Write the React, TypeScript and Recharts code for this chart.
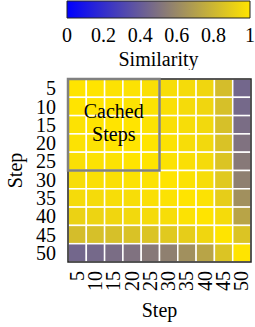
import React from 'react';
import {
  BarChart,
  Bar,
  ScatterChart,
  Scatter,
  XAxis,
  YAxis,
  ReferenceArea,
  Label,
} from 'recharts';

const FONT = "'Liberation Serif', 'Times New Roman', serif";

// steps on both axes
const STEPS = [5, 10, 15, 20, 25, 30, 35, 40, 45, 50];

// similarity between step i (row) and step j (column)
const ROW_05 = [1.0, 1.0, 0.99, 0.99, 0.98, 0.97, 0.96, 0.94, 0.83, 0.45];
const ROW_10 = [1.0, 1.0, 1.0, 0.99, 0.99, 0.98, 0.96, 0.94, 0.84, 0.46];
const ROW_15 = [0.99, 1.0, 1.0, 1.0, 0.99, 0.98, 0.97, 0.95, 0.84, 0.48];
const ROW_20 = [0.99, 0.99, 1.0, 1.0, 1.0, 0.99, 0.97, 0.95, 0.85, 0.5];
const ROW_25 = [0.98, 0.99, 0.99, 1.0, 1.0, 0.99, 0.98, 0.96, 0.86, 0.53];
const ROW_30 = [0.97, 0.98, 0.98, 0.99, 0.99, 1.0, 0.99, 0.97, 0.88, 0.56];
const ROW_35 = [0.96, 0.96, 0.97, 0.97, 0.98, 0.99, 1.0, 0.99, 0.9, 0.63];
const ROW_40 = [0.92, 0.93, 0.94, 0.95, 0.96, 0.97, 0.99, 1.0, 0.96, 0.72];
const ROW_45 = [0.83, 0.84, 0.84, 0.85, 0.86, 0.88, 0.9, 0.94, 1.0, 0.86];
const ROW_50 = [0.45, 0.46, 0.48, 0.5, 0.53, 0.56, 0.63, 0.72, 0.86, 1.0];
const SIMILARITY = [ROW_05, ROW_10, ROW_15, ROW_20, ROW_25, ROW_30, ROW_35, ROW_40, ROW_45, ROW_50];

const COLOR_TICKS = [0, 0.2, 0.4, 0.6, 0.8, 1];
const CACHED_UNTIL = 25;

const cells = SIMILARITY.flatMap((row, i) =>
  row.map((v, j) => ({ x: STEPS[j], y: STEPS[i], v })),
);

// blue -> yellow
function simColor(t: number) {
  const r = Math.round(255 * t);
  const g = Math.round(228 * t);
  const b = Math.round(255 * (1 - t));
  return `rgb(${r},${g},${b})`;
}

const W = 255;
const H_MAP = 257;
const MAP_MARGIN = { top: 9, right: 4, bottom: 0, left: 0 };
const Y_AXIS_W = 68;
const X_AXIS_H = 65;
const PLOT_W = W - MAP_MARGIN.left - MAP_MARGIN.right - Y_AXIS_W;
const CELL = PLOT_W / STEPS.length;

function Cell(props: any) {
  const { cx, cy, payload } = props;
  if (cx == null || cy == null) return null;
  return (
    <rect
      x={cx - CELL / 2}
      y={cy - CELL / 2}
      width={CELL}
      height={CELL}
      fill={simColor(payload.v)}
      stroke="#fff"
      strokeWidth={1.5}
    />
  );
}

function XTick(props: any) {
  const { x, y, payload } = props;
  const bx = x + 6.5;
  return (
    <text
      x={bx}
      y={y + 1}
      transform={`rotate(-90, ${bx}, ${y + 1})`}
      textAnchor="end"
      fontSize={20}
      fontFamily={FONT}
      fill="#000"
    >
      {payload.value}
    </text>
  );
}

function CachedLabel(props: any) {
  const { viewBox } = props;
  if (!viewBox) return null;
  const cx = viewBox.x + viewBox.width / 2;
  const cy = viewBox.y + viewBox.height / 2;
  return (
    <text textAnchor="middle" fontSize={20} fontFamily={FONT} fill="#000">
      <tspan x={cx} y={cy - 7}>Cached</tspan>
      <tspan x={cx} y={cy + 16}>Steps</tspan>
    </text>
  );
}

function Heatmap() {
  return (
    <ScatterChart width={W} height={H_MAP} margin={MAP_MARGIN}>
      <XAxis
        type="number"
        dataKey="x"
        domain={[2.5, 52.5]}
        ticks={STEPS}
        interval={0}
        height={X_AXIS_H}
        axisLine={false}
        tickLine={false}
        tick={<XTick />}
      >
        <Label
          content={(p: any) => (
            <text
              x={p.viewBox.x + p.viewBox.width / 2}
              y={p.viewBox.y + 55}
              textAnchor="middle"
              fontSize={20}
              fontFamily={FONT}
              fill="#000"
            >
              Step
            </text>
          )}
        />
      </XAxis>
      <YAxis
        type="number"
        dataKey="y"
        domain={[2.5, 52.5]}
        ticks={STEPS}
        interval={0}
        reversed
        width={Y_AXIS_W}
        axisLine={false}
        tickLine={false}
        tickSize={6}
        tickMargin={6}
        tick={{ fontSize: 20, fontFamily: FONT, fill: '#000' }}
      >
        <Label
          content={(p: any) => {
            const lx = 22;
            const ly = p.viewBox.y + p.viewBox.height / 2;
            return (
              <text
                x={lx}
                y={ly}
                transform={`rotate(-90, ${lx}, ${ly})`}
                textAnchor="middle"
                fontSize={20}
                fontFamily={FONT}
                fill="#000"
              >
                Step
              </text>
            );
          }}
        />
      </YAxis>
      <Scatter data={cells} shape={<Cell />} isAnimationActive={false} />
      <ReferenceArea
        x1={2.5}
        x2={52.5}
        y1={2.5}
        y2={52.5}
        fill="none"
        stroke="#222"
        strokeWidth={1.5}
        ifOverflow="visible"
        zIndex={1000}
      />
      <ReferenceArea
        x1={2.5}
        x2={CACHED_UNTIL + 2.5}
        y1={2.5}
        y2={CACHED_UNTIL + 2.5}
        fill="none"
        stroke="#808080"
        strokeWidth={2.5}
        ifOverflow="visible"
        zIndex={1001}
        label={<CachedLabel />}
      />
    </ScatterChart>
  );
}

function ColorBar() {
  return (
    <BarChart
      width={W}
      height={70}
      layout="vertical"
      data={[{ name: 'sim', value: 1 }]}
      margin={{ top: 1, right: 5, bottom: 0, left: 67 }}
      barCategoryGap={0}
    >
      <defs>
        <linearGradient id="simGrad" x1="0" y1="0" x2="1" y2="0">
          <stop offset="0%" stopColor={simColor(0)} />
          <stop offset="50%" stopColor={simColor(0.5)} />
          <stop offset="100%" stopColor={simColor(1)} />
        </linearGradient>
      </defs>
      <XAxis
        type="number"
        domain={[0, 1]}
        ticks={COLOR_TICKS}
        interval={0}
        height={52}
        axisLine={false}
        tickLine={false}
        tickSize={6}
        tickMargin={4}
        tick={{ fontSize: 20, fontFamily: FONT, fill: '#000' }}
      >
        <Label
          content={(p: any) => (
            <text
              x={p.viewBox.x + p.viewBox.width / 2}
              y={66}
              textAnchor="middle"
              fontSize={20}
              fontFamily={FONT}
              fill="#000"
            >
              Similarity
            </text>
          )}
        />
      </XAxis>
      <YAxis type="category" dataKey="name" hide />
      <Bar
        dataKey="value"
        fill="url(#simGrad)"
        stroke="#222"
        strokeWidth={1}
        isAnimationActive={false}
      />
    </BarChart>
  );
}

export default function App() {
  return (
    <div style={{ position: 'absolute', left: 0, top: 0, width: W, height: 327, background: '#fff' }}>
      <div style={{ position: 'absolute', left: 0, top: 0 }}>
        <ColorBar />
      </div>
      <div style={{ position: 'absolute', left: 0, top: 70 }}>
        <Heatmap />
      </div>
    </div>
  );
}
